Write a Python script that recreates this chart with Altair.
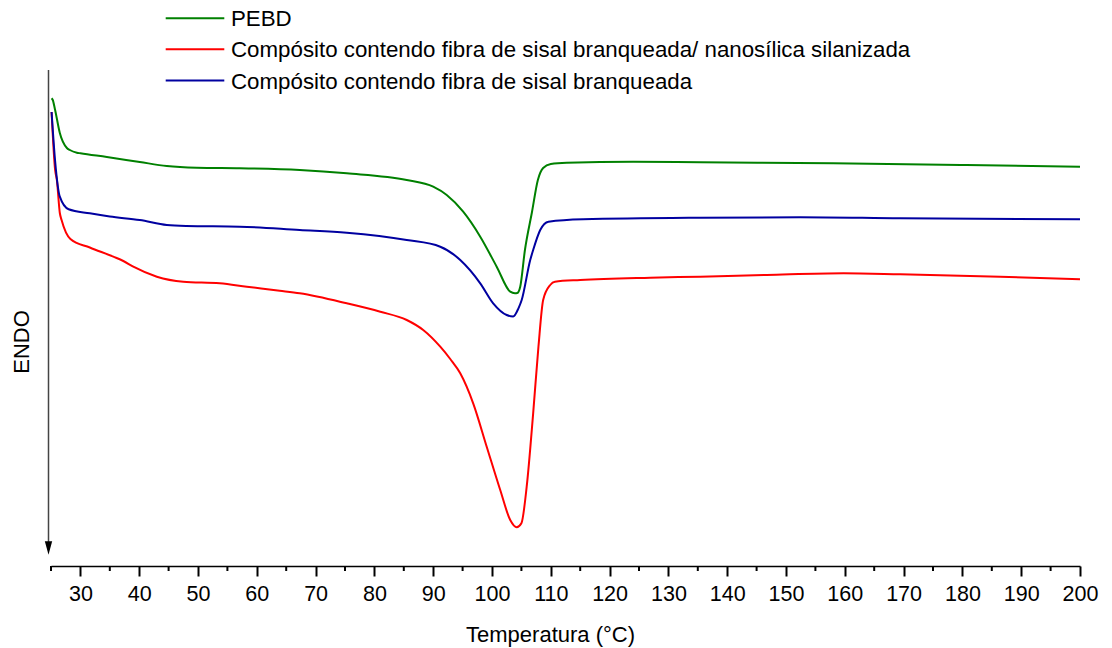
import altair as alt
import pandas as pd

series_names = [
    "PEBD",
    "Compósito contendo fibra de sisal branqueada/ nanosílica silanizada",
    "Compósito contendo fibra de sisal branqueada",
]
colors = ["#008000", "#FF0000", "#0000A0"]

# Temperature (°C) and heat flow (arbitrary units, endo down)
pebd_t = [25.1, 25.3, 25.7, 26.5, 27.7, 28.2, 29.4, 30.0, 34.5, 40.1, 44.7, 49.8, 57.1,
          67.3, 75.3, 85.5, 90.0, 92.3, 95.1, 98.0, 100.8, 103.1, 103.9, 104.3, 104.8,
          105.6, 106.8, 107.8, 108.7, 110.0, 112.7, 124.0, 135.4, 158.0, 180.7, 200.0]
pebd_f = [467.7, 466.0, 456.0, 433.0, 418.0, 416.0, 413.3, 412.7, 409.0, 404.0, 400.0, 398.3, 397.7,
          396.0, 392.7, 386.0, 379.3, 371.0, 354.3, 329.3, 299.3, 274.3, 272.7, 273.0, 279.3,
          316.0, 354.0, 386.0, 398.0, 402.0, 403.3, 404.3, 403.7, 402.7, 401.0, 399.3]

nano_t = [25.1, 25.7, 26.0, 26.5, 26.8, 28.3, 31.6, 35.6, 37.3, 39.0, 43.0, 47.5, 53.7,
          58.3, 63.9, 67.3, 75.3, 81.0, 85.5, 88.3, 91.2, 92.9, 94.6, 96.8, 99.1, 101.4, 103.1,
          104.2, 105.0, 105.9, 107.0, 107.9, 108.7, 109.9, 110.7, 115.0, 126.9, 135.4,
          146.7, 159.8, 169.4, 186.4, 200.0]
nano_f = [454.0, 396.0, 386.0, 353.0, 346.0, 327.0, 318.5, 309.3, 305.0, 299.3, 289.3, 284.3, 282.7,
          279.3, 275.3, 272.7, 262.7, 254.3, 246.0, 236.0, 219.3, 207.0, 192.7, 162.7, 119.3, 76.0, 46.0,
          38.7, 42.7, 79.3, 152.7, 219.3, 266.0, 281.0, 284.3, 286.0, 288.3, 289.3,
          291.0, 292.7, 291.7, 289.3, 286.7]

fibra_t = [25.1, 25.7, 26.5, 28.0, 31.6, 35.0, 40.1, 44.7, 48.0, 57.1, 67.3, 75.3, 85.5,
           91.2, 94.6, 98.0, 100.2, 102.5, 103.6, 104.5, 105.05, 106.5, 107.0, 108.2, 109.6,
           115.5, 135.4, 152.4, 169.4, 200.0]
fibra_f = [454.0, 405.0, 369.3, 356.7, 352.7, 349.5, 346.0, 341.0, 340.0, 339.3, 336.0, 333.3, 326.0,
           319.3, 306.0, 282.7, 262.7, 251.0, 249.5, 257.7, 266.0, 306.0, 316.0, 336.0, 344.3,
           346.7, 348.3, 348.7, 347.7, 346.7]

major_ticks = list(range(30, 201, 10))
minor_ticks = list(range(25, 200, 10))

rows = []
for name, ts, fs in zip(series_names, [pebd_t, nano_t, fibra_t], [pebd_f, nano_f, fibra_f]):
    for i, (t, f) in enumerate(zip(ts, fs)):
        rows.append({"serie": name, "T": t, "fluxo": f, "ordem": i})
df = pd.DataFrame(rows)

W, H = 1029, 566
FONT = "Liberation Sans"

xscale = alt.Scale(domain=[25, 200], nice=False, zero=False)

lines = alt.Chart(df).mark_line(strokeWidth=2, interpolate="monotone").encode(
    x=alt.X("T:Q", scale=xscale,
            axis=alt.Axis(values=major_ticks, title="Temperatura (°C)", format="d")),
    y=alt.Y("fluxo:Q", scale=alt.Scale(domain=[0, 566], nice=False, zero=False), axis=None),
    color=alt.Color("serie:N", sort=series_names,
                    scale=alt.Scale(domain=series_names, range=colors), legend=None),
    order="ordem:Q",
)

minor = alt.Chart(pd.DataFrame({"T": minor_ticks})).mark_rule(
    color="black", strokeWidth=2
).encode(x=alt.X("T:Q", scale=xscale), y=alt.value(H), y2=alt.value(H + 5))

one = pd.DataFrame({"k": [0]})
arrow_line = alt.Chart(one).mark_rule(color="#444444", strokeWidth=1.5).encode(
    x=alt.value(-2.5), y=alt.value(70), y2=alt.value(545)
)
arrow_head = alt.Chart(one).mark_point(
    shape="M-1.05,-1.9L1.05,-1.9L0,1.9Z", filled=True, color="black", size=49, opacity=1
).encode(x=alt.value(-2.5), y=alt.value(548))
endo = alt.Chart(one).mark_text(
    text="ENDO", angle=270, fontSize=22, font=FONT, color="black", align="center", baseline="middle"
).encode(x=alt.value(-29.5), y=alt.value(342))

# manual legend
legend_rows_y = [18.3, 49.3, 80.5]
legend_layers = []
for name, col, ly in zip(series_names, colors, legend_rows_y):
    legend_layers.append(
        alt.Chart(one).mark_rule(color=col, strokeWidth=2).encode(
            x=alt.value(114.7), x2=alt.value(173.3), y=alt.value(ly)
        )
    )
    legend_layers.append(
        alt.Chart(one).mark_text(
            text=name, fontSize=22.3, font=FONT, color="black", align="left", baseline="middle"
        ).encode(x=alt.value(180), y=alt.value(ly + 1))
    )

chart = alt.layer(lines, minor, arrow_line, arrow_head, endo, *legend_layers).properties(
    width=W, height=H,
    padding={"left": 51, "top": 0, "right": 32, "bottom": 82},
    autosize=alt.AutoSizeParams(type="none"),
).configure_view(stroke=None).configure_axis(
    labelFontSize=21.5, labelFont=FONT, labelColor="black",
    tickSize=10, tickWidth=2, tickColor="black",
    domainColor="black", domainWidth=1.5,
    labelPadding=7, labelFlush=False, labelOverlap=False,
    titleFontSize=22, titleFont=FONT, titleColor="black", titleFontWeight="normal",
    titleX=499, titleAlign="center",
    titleY=75, titleBaseline="alphabetic", grid=False,
)

chart.save("out.html", embed_options={"renderer": "svg", "actions": False})
